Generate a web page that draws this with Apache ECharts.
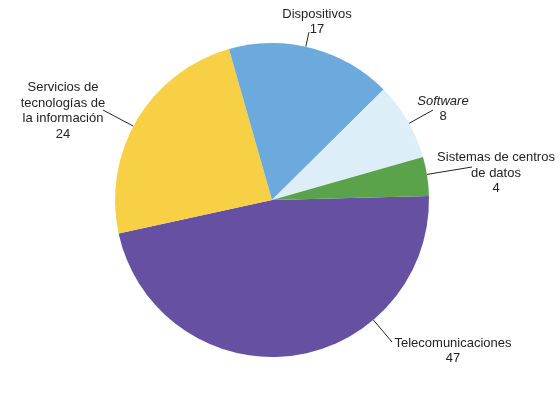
<!DOCTYPE html>
<html>
<head>
<meta charset="utf-8">
<script src="https://cdn.jsdelivr.net/npm/echarts@6/dist/echarts.min.js"></script>
<style>html,body{margin:0;padding:0;background:#fff}#c{width:560px;height:396px}</style>
</head>
<body>
<div id="c"></div>
<script>
var categories = ['Telecomunicaciones', 'Servicios de\ntecnologías de\nla información', 'Dispositivos', 'Software', 'Sistemas de centros\nde datos'];
var values = [47, 24, 17, 8, 4];
var colors = ['#6550A2', '#F7D046', '#6CA9DD', '#DDEEF8', '#5BA34A'];
var italicNames = [false, false, false, true, false];

// label placement (layout only)
var CX = 272, CY = 200, R = 157;
var labelPos = [[453, 351], [63, 111], [317, 22], [443, 109], [496, 173]];
var lineAnchor = [[392, 342], [103, 110], [309, 32], [433, 110], [472, 167]];

var chart = echarts.init(document.getElementById('c'));
var data = categories.map(function (n, i) {
  return { name: n, value: values[i], itemStyle: { color: colors[i] } };
});
chart.setOption({
  animation: false,
  series: [{
    type: 'pie',
    center: [CX, CY],
    radius: R,
    startAngle: 1.5,
    clockwise: true,
    data: data,
    label: {
      show: true,
      position: 'outside',
      overflow: 'none',
      edgeDistance: 0,
      fontFamily: 'Liberation Sans, Arial, sans-serif',
      fontSize: 13,
      color: '#222',
      lineHeight: 15.7,
      align: 'center',
      formatter: function (p) {
        var nm = p.name;
        if (italicNames[p.dataIndex]) nm = '{i|' + nm + '}';
        return nm + '\n' + p.value;
      },
      rich: {
        i: { fontStyle: 'italic', fontFamily: 'Liberation Sans, Arial, sans-serif', fontSize: 13, color: '#222', lineHeight: 15.7 }
      }
    },
    labelLine: {
      show: true,
      length: 10,
      length2: 0,
      lineStyle: { color: '#222', width: 1 }
    },
    labelLayout: function (p) {
      var i = p.dataIndex;
      var pos = labelPos[i];
      var a = lineAnchor[i];
      var dx = a[0] - CX, dy = a[1] - CY;
      var d = Math.sqrt(dx * dx + dy * dy);
      var s = [CX + R * dx / d, CY + R * dy / d];
      return {
        x: pos[0], y: pos[1], align: 'center', verticalAlign: 'middle',
        labelLinePoints: [s, a, a]
      };
    }
  }]
});
</script>
</body>
</html>
